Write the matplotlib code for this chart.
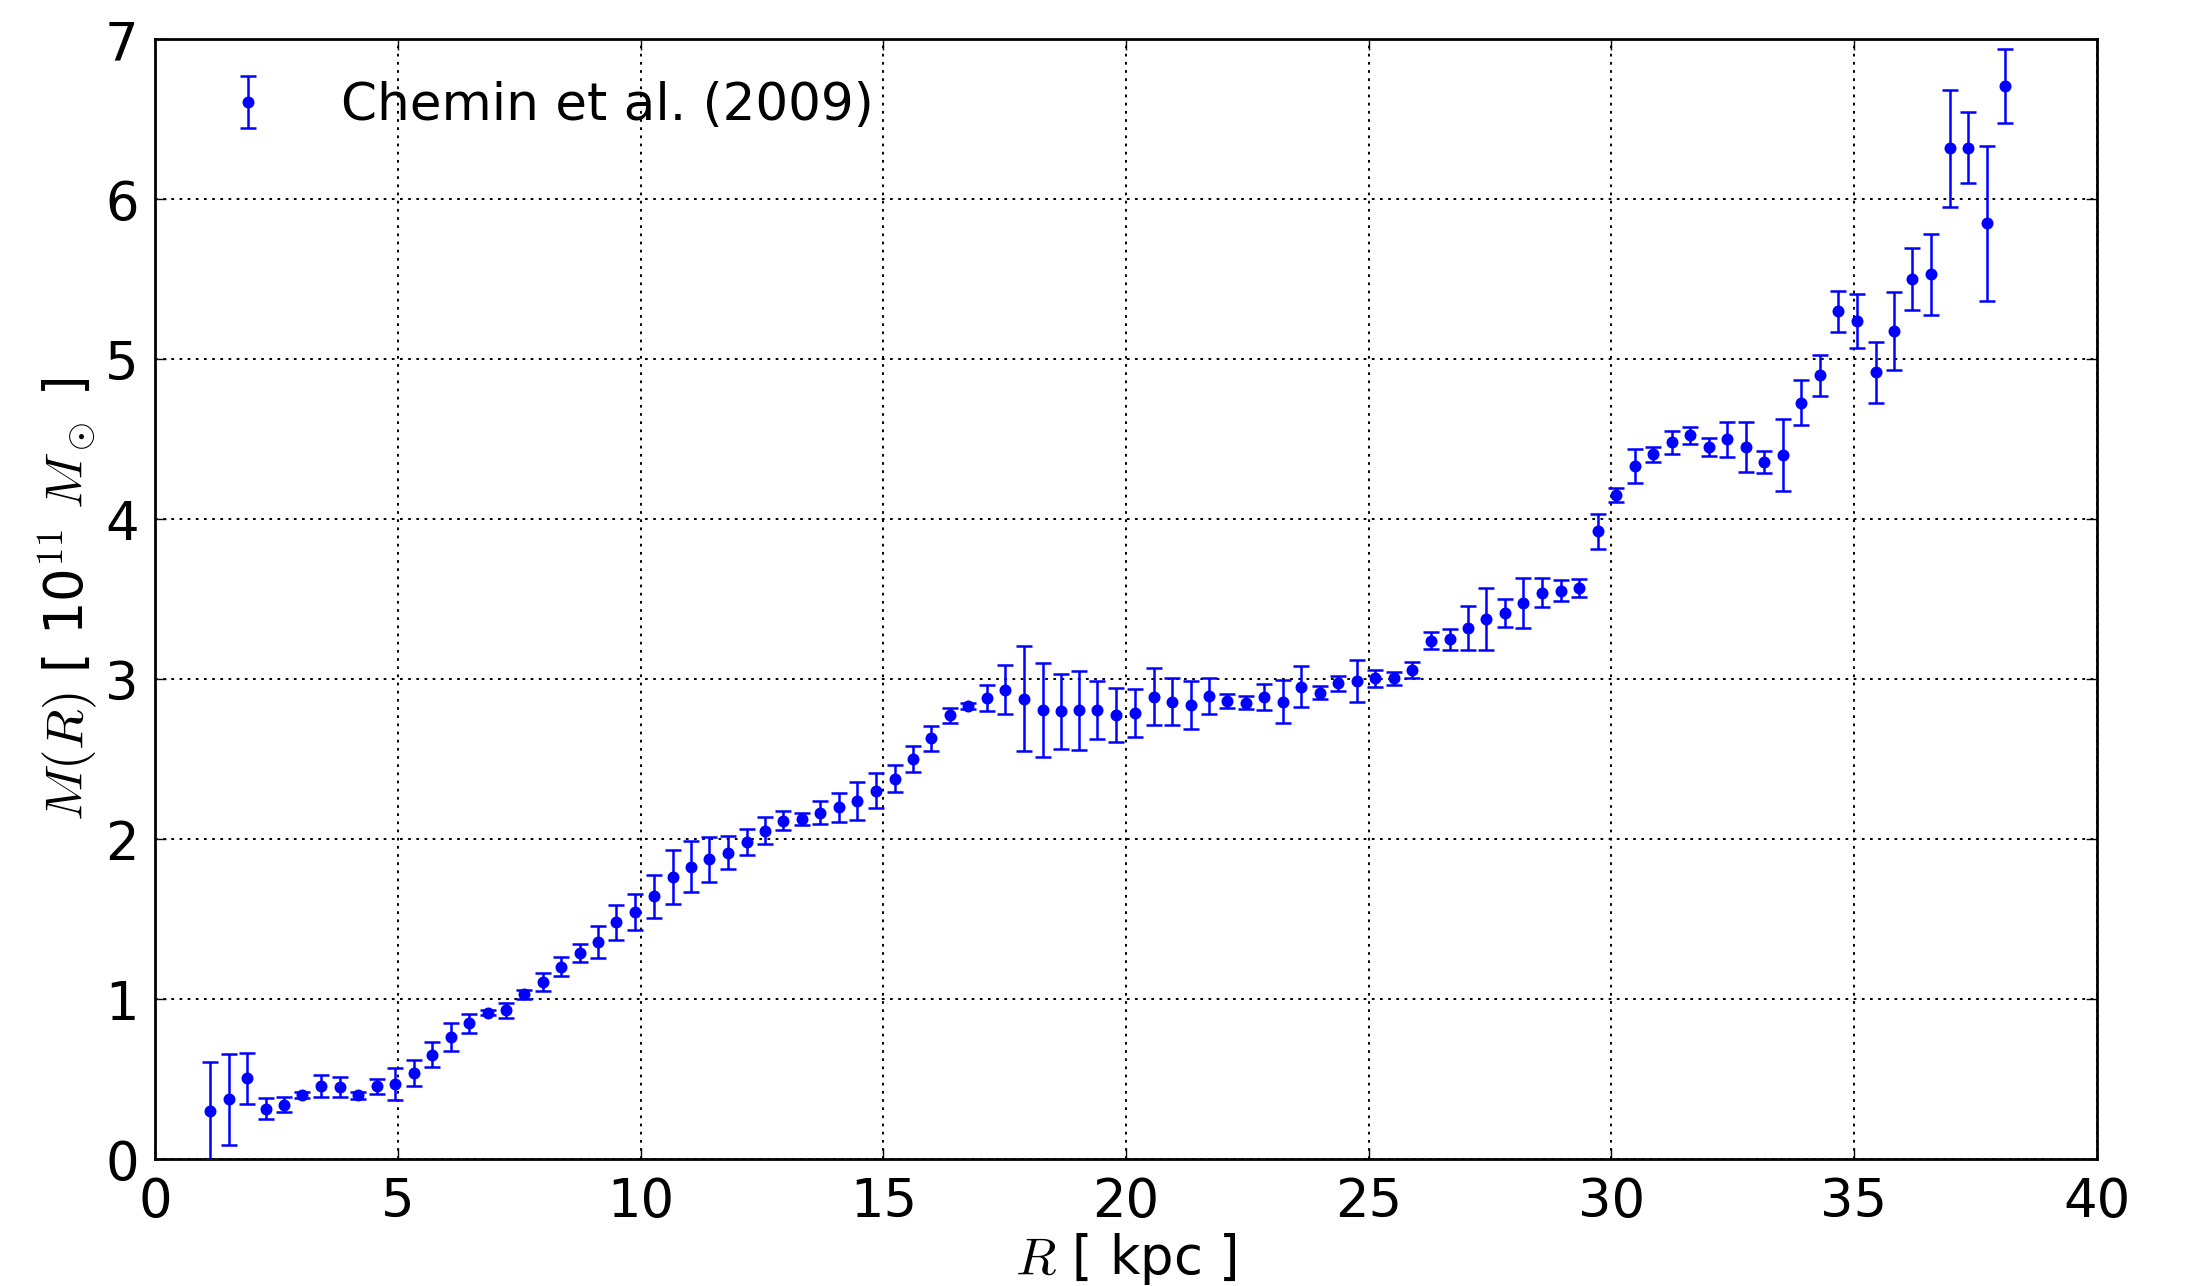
import matplotlib
matplotlib.use("Agg")
import matplotlib.pyplot as plt

R_kpc = [1.13, 1.51, 1.88, 2.27, 2.64, 3.03, 3.42, 3.80, 4.18, 4.56,
         4.94, 5.32, 5.70, 6.09, 6.47, 6.85, 7.22, 7.60, 7.98, 8.36,
         8.75, 9.13, 9.50, 9.88, 10.27, 10.66, 11.04, 11.41, 11.80, 12.18,
         12.56, 12.94, 13.32, 13.70, 14.08, 14.46, 14.84, 15.23, 15.61, 15.99,
         16.37, 16.75, 17.13, 17.51, 17.90, 18.28, 18.66, 19.04, 19.41, 19.79,
         20.19, 20.57, 20.95, 21.33, 21.71, 22.08, 22.47, 22.85, 23.23, 23.61,
         24.00, 24.37, 24.76, 25.14, 25.52, 25.90, 26.29, 26.67, 27.04, 27.42,
         27.80, 28.19, 28.57, 28.96, 29.33, 29.72, 30.10, 30.48, 30.86, 31.25,
         31.63, 32.01, 32.39, 32.78, 33.15, 33.53, 33.91, 34.29, 34.68, 35.06,
         35.45, 35.82, 36.20, 36.58, 36.97, 37.34, 37.74, 38.11]

M_mass = [0.300, 0.375, 0.508, 0.317, 0.342, 0.404, 0.458, 0.454, 0.400, 0.458,
          0.471, 0.542, 0.654, 0.765, 0.850, 0.917, 0.932, 1.033, 1.111, 1.205,
          1.292, 1.360, 1.482, 1.545, 1.645, 1.765, 1.830, 1.876, 1.918, 1.984,
          2.055, 2.118, 2.126, 2.168, 2.201, 2.240, 2.305, 2.380, 2.505, 2.634,
          2.776, 2.835, 2.886, 2.936, 2.880, 2.809, 2.801, 2.809, 2.809, 2.780,
          2.789, 2.893, 2.862, 2.839, 2.897, 2.864, 2.855, 2.889, 2.862, 2.955,
          2.918, 2.976, 2.990, 3.009, 3.007, 3.059, 3.243, 3.251, 3.324, 3.376,
          3.417, 3.480, 3.543, 3.556, 3.572, 3.926, 4.153, 4.336, 4.407, 4.484,
          4.526, 4.453, 4.501, 4.453, 4.357, 4.403, 4.730, 4.901, 5.300, 5.240,
          4.920, 5.178, 5.505, 5.532, 6.320, 6.324, 5.851, 6.710]

M_err = [0.306, 0.285, 0.160, 0.065, 0.048, 0.019, 0.069, 0.063, 0.020, 0.046,
         0.100, 0.080, 0.078, 0.090, 0.058, 0.017, 0.049, 0.028, 0.057, 0.060,
         0.055, 0.098, 0.108, 0.113, 0.136, 0.171, 0.161, 0.140, 0.104, 0.079,
         0.083, 0.060, 0.038, 0.074, 0.090, 0.118, 0.108, 0.084, 0.081, 0.078,
         0.047, 0.019, 0.082, 0.154, 0.328, 0.295, 0.234, 0.247, 0.182, 0.168,
         0.151, 0.176, 0.146, 0.150, 0.114, 0.043, 0.040, 0.082, 0.136, 0.127,
         0.043, 0.046, 0.131, 0.053, 0.042, 0.048, 0.055, 0.065, 0.138, 0.194,
         0.089, 0.156, 0.089, 0.064, 0.055, 0.110, 0.046, 0.107, 0.047, 0.072,
         0.054, 0.058, 0.110, 0.158, 0.069, 0.227, 0.139, 0.127, 0.129, 0.170,
         0.189, 0.242, 0.193, 0.252, 0.364, 0.220, 0.484, 0.233]

x_ticks = [0, 5, 10, 15, 20, 25, 30, 35, 40]
y_ticks = [0, 1, 2, 3, 4, 5, 6, 7]

plt.rcParams['font.family'] = ['DejaVu Sans']
plt.rcParams['mathtext.fontset'] = 'cm'

fig = plt.figure(figsize=(10.96, 6.43), dpi=200, facecolor='white')
ax = fig.add_axes([0.0709, 0.0984, 0.8856, 0.8709])

ax.errorbar(R_kpc, M_mass, yerr=M_err, fmt='o', color='b', mec='b', mfc='b',
            ms=3.3, elinewidth=0.9, capsize=2.8, capthick=0.9,
            label='Chemin et al. (2009)', zorder=3)

ax.set_xlim(0, 40)
ax.set_ylim(0, 7)
ax.set_xticks(x_ticks)
ax.set_yticks(y_ticks)
ax.tick_params(direction='in', top=True, right=True, length=4, width=0.5,
               labelsize=19, pad=6)
ax.grid(True, color='black', linestyle=(0, (1.4, 2.8)), linewidth=0.7)
for s in ax.spines.values():
    s.set_linewidth(1.0)

ax.set_xlabel(r'$R$ [ kpc ]', fontsize=19, labelpad=1)
ax.set_ylabel(r'$M(R)$ [ 10$^{11}$ $M_\odot$ ]', fontsize=19, labelpad=2)

ax.legend(loc='upper left', frameon=False, numpoints=1, fontsize=18.6,
          handlelength=2.0, handletextpad=0.8, borderaxespad=0.4)

fig.savefig('out.png', dpi=200, facecolor='white')
